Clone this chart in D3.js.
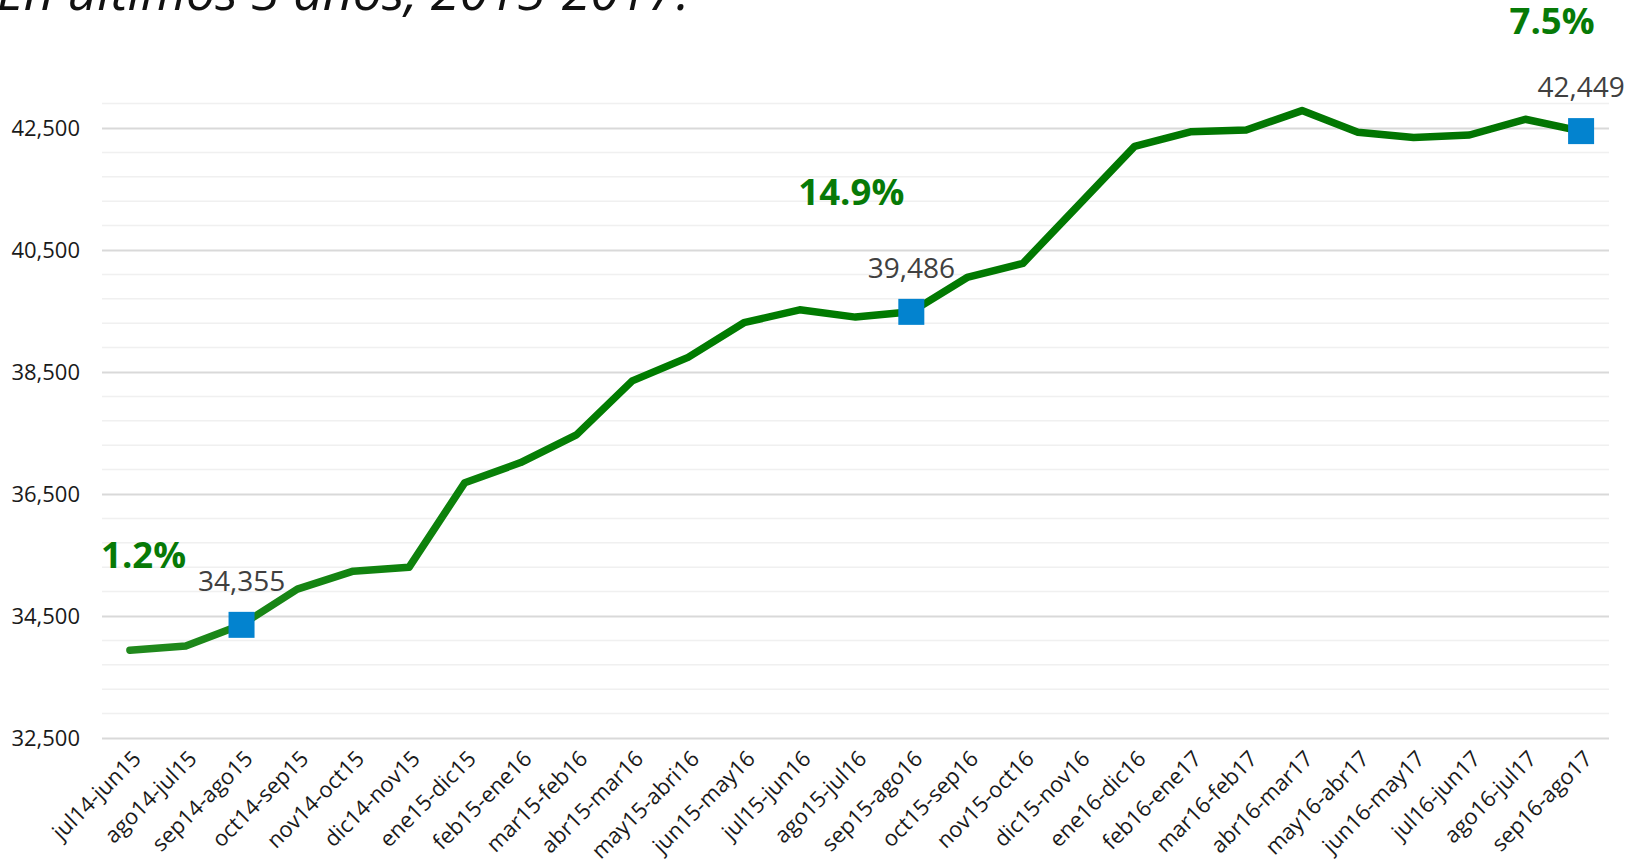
<!DOCTYPE html>
<html>
<head>
<meta charset="utf-8">
<script src="https://cdn.jsdelivr.net/npm/d3@7"></script>
<style>
  html, body { margin: 0; padding: 0; background: #fff; }
  svg { display: block; font-family: "Open Sans", "Noto Sans", sans-serif; }
</style>
</head>
<body>
<div id="chart"></div>
<script>
// periodos moviles de 12 meses
var categories = ["jul14-jun15", "ago14-jul15", "sep14-ago15", "oct14-sep15", "nov14-oct15",
  "dic14-nov15", "ene15-dic15", "feb15-ene16", "mar15-feb16", "abr15-mar16", "may15-abri16",
  "jun15-may16", "jul15-jun16", "ago15-jul16", "sep15-ago16", "oct15-sep16", "nov15-oct16",
  "dic15-nov16", "ene16-dic16", "feb16-ene17", "mar16-feb17", "abr16-mar17", "may16-abr17",
  "jun16-may17", "jul16-jun17", "ago16-jul17", "sep16-ago17"];

var values = [33940, 34010, 34355, 34940, 35235, 35298, 36686, 37015, 37470, 38355, 38740,
  39308, 39520, 39400, 39486, 40050, 40282, 41240, 42200, 42438, 42467, 42785, 42432,
  42345, 42385, 42643, 42449];

// puntos marcados y variaciones
var markedIndex = [2, 14, 26];
var growthLabels = ["1.2%", "14.9%", "7.5%"];

var yMajorTicks = [32500, 34500, 36500, 38500, 40500, 42500];
var yMinorStep = 400;
var yMax = 42900;

var title = "En últimos 3 años, 2015-2017.";

var width = 1644, height = 863;
var plotLeft = 102, plotRight = 1609, plotTop = 103.6, plotBottom = 738;

var svg = d3.select("#chart").append("svg")
  .attr("width", width)
  .attr("height", height);

var x = d3.scalePoint()
  .domain(categories)
  .range([plotLeft, plotRight])
  .padding(0.5);

var y = d3.scaleLinear()
  .domain([yMajorTicks[0], yMax])
  .range([plotBottom, plotTop]);

// minor gridlines
var minor = d3.range(yMajorTicks[0], yMax + 1, yMinorStep)
  .filter(function(v) { return yMajorTicks.indexOf(v) < 0; });
svg.append("g").selectAll("line").data(minor).enter().append("line")
  .attr("x1", plotLeft).attr("x2", plotRight)
  .attr("y1", function(d) { return y(d); })
  .attr("y2", function(d) { return y(d); })
  .attr("stroke", "#f0f0f0")
  .attr("stroke-width", 1.5);

// y axis with major gridlines
var yAxis = svg.append("g")
  .attr("transform", "translate(" + plotLeft + ",0)")
  .call(d3.axisLeft(y).tickValues(yMajorTicks).tickSize(-(plotRight - plotLeft)).tickPadding(22)
    .tickFormat(d3.format(",")));
yAxis.attr("font-family", null).attr("font-size", null);
yAxis.select(".domain").remove();
yAxis.selectAll(".tick line").attr("stroke", "#d9d9d9").attr("stroke-width", 2);
yAxis.selectAll(".tick text")
  .attr("font-size", 22)
  .attr("fill", "#1a1a1a")
  .attr("dy", "0.36em");

// x axis labels
var xAxis = svg.append("g")
  .attr("transform", "translate(0," + plotBottom + ")")
  .call(d3.axisBottom(x).tickSize(0).tickPadding(0));
xAxis.attr("font-family", null).attr("font-size", null);
xAxis.select(".domain").remove();
xAxis.selectAll(".tick text")
  .attr("font-size", 22)
  .attr("fill", "#1a1a1a")
  .attr("text-anchor", "end")
  .attr("dy", null)
  .attr("y", 0)
  .attr("transform", "translate(12,22) rotate(-45)");

// line gradient
var defs = svg.append("defs");
var grad = defs.append("linearGradient")
  .attr("id", "lineGrad")
  .attr("gradientUnits", "userSpaceOnUse")
  .attr("x1", plotLeft).attr("x2", plotRight).attr("y1", 0).attr("y2", 0);
grad.append("stop").attr("offset", "0%").attr("stop-color", "#238a1f");
grad.append("stop").attr("offset", "35%").attr("stop-color", "#007c00");
grad.append("stop").attr("offset", "100%").attr("stop-color", "#037403");

var line = d3.line()
  .x(function(d, i) { return x(categories[i]); })
  .y(function(d) { return y(d); });

svg.append("path")
  .datum(values)
  .attr("fill", "none")
  .attr("stroke", "url(#lineGrad)")
  .attr("stroke-width", 7.5)
  .attr("stroke-linecap", "round")
  .attr("stroke-linejoin", "round")
  .attr("d", line);

// markers
var sq = 26;
svg.append("g").selectAll("rect").data(markedIndex).enter().append("rect")
  .attr("x", function(i) { return x(categories[i]) - sq / 2; })
  .attr("y", function(i) { return y(values[i]) - sq / 2; })
  .attr("width", sq).attr("height", sq)
  .attr("fill", "#0383cf");

// value labels
svg.append("g").selectAll("text").data(markedIndex).enter().append("text")
  .attr("x", function(i) { return x(categories[i]); })
  .attr("y", function(i) { return y(values[i]) - 34; })
  .attr("text-anchor", "middle")
  .attr("font-size", 28)
  .attr("fill", "#404040")
  .text(function(i) { return d3.format(",")(values[i]); });

// growth labels, offsets from the marked point
var growthOffset = [[-98, -57], [-60, -107], [-29, -97]];
svg.append("g").selectAll("text").data(markedIndex).enter().append("text")
  .attr("x", function(i, k) { return x(categories[i]) + growthOffset[k][0]; })
  .attr("y", function(i, k) { return y(values[i]) + growthOffset[k][1]; })
  .attr("text-anchor", "middle")
  .attr("font-size", 36.5)
  .attr("font-weight", "bold")
  .attr("fill", "#077a07")
  .text(function(i, k) { return growthLabels[k]; });

// title (cut at the top in the original)
svg.append("text")
  .attr("x", -3)
  .attr("y", 10)
  .attr("font-size", 52)
  .attr("font-style", "italic")
  .attr("fill", "#111")
  .text(title);
</script>
</body>
</html>
